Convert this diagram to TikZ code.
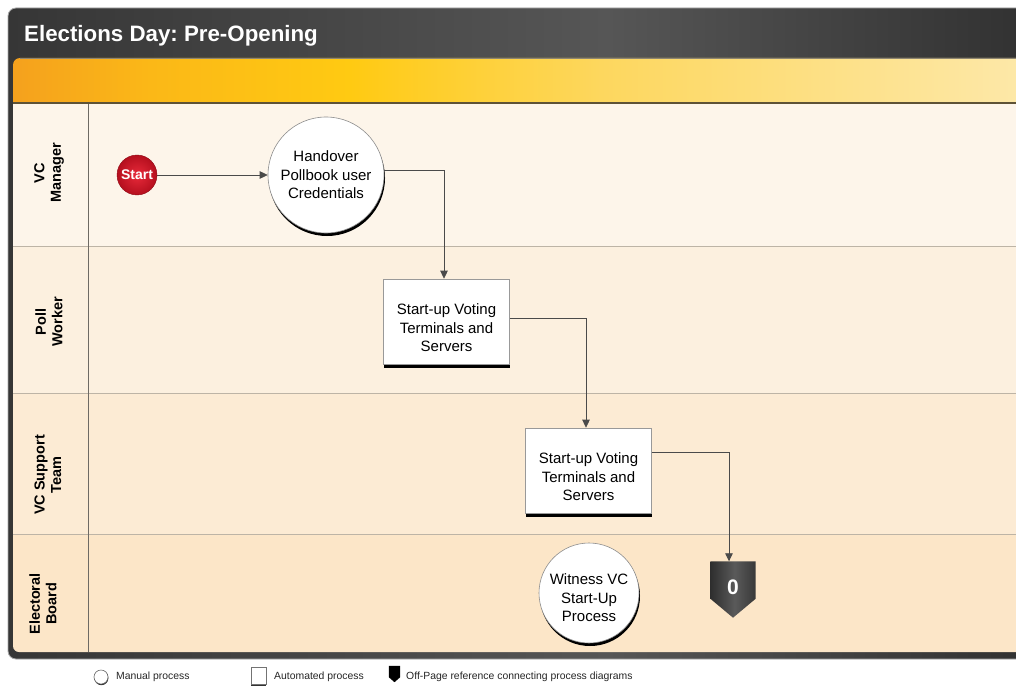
\documentclass[tikz,border=0pt]{standalone}
\usepackage{fontspec}
\setmainfont{Liberation Sans}
\usetikzlibrary{arrows.meta,calc}
\frenchspacing

% palette
\definecolor{frameA}{HTML}{363636}
\definecolor{frameM}{HTML}{464646}
\definecolor{frameB}{HTML}{565656}
\definecolor{frameC}{HTML}{323232}
\definecolor{frameEdge}{HTML}{A8A8A8}
\definecolor{bandA}{HTML}{F5A11D}
\definecolor{bandB}{HTML}{FBB817}
\definecolor{bandC}{HTML}{FFCA12}
\definecolor{bandD}{HTML}{FDD75E}
\definecolor{bandE}{HTML}{FDE8A8}
\definecolor{bandEdge}{HTML}{5E5236}
\definecolor{laneA}{HTML}{FDF5EA}
\definecolor{laneB}{HTML}{FCF0DF}
\definecolor{laneC}{HTML}{FCEBD4}
\definecolor{laneD}{HTML}{FCE6C8}
\definecolor{laneRule}{HTML}{BDB4A6}
\definecolor{colRule}{HTML}{6E6A64}
\definecolor{flowLine}{HTML}{4A4A4A}
\definecolor{redIn}{HTML}{E82A3A}
\definecolor{redOut}{HTML}{B50F1E}
\definecolor{offA}{HTML}{2E2E2E}
\definecolor{offB}{HTML}{5A5A5A}
\definecolor{offC}{HTML}{383838}

% horizontal colour ramps (25bp..75bp span the shaded path)
\pgfdeclarehorizontalshading{framebar}{100bp}{color(0bp)=(frameA); color(25bp)=(frameA); color(40bp)=(frameM); color(54bp)=(frameB); color(74bp)=(frameC); color(100bp)=(frameC)}
\pgfdeclarehorizontalshading{bandbar}{100bp}{color(0bp)=(bandA); color(25bp)=(bandA); color(31.7bp)=(bandB); color(41.4bp)=(bandC); color(53.6bp)=(bandD); color(74bp)=(bandE); color(100bp)=(bandE)}
\pgfdeclarehorizontalshading{offbar}{100bp}{color(0bp)=(offA); color(25bp)=(offA); color(52bp)=(offB); color(75bp)=(offC); color(100bp)=(offC)}

\begin{document}
\begin{tikzpicture}[x=1pt,y=-1pt,
  lanelabel/.style={rotate=90, align=center, inner sep=0pt,
    font=\bfseries\fontsize{14.5}{16.5}\selectfont},
  manual/.style={circle, draw=black!45, line width=0.6pt, fill=white,
    align=center, inner sep=0pt, font=\fontsize{15}{18.5}\selectfont,
    preaction={fill=black, transform canvas={xshift=1pt,yshift=-3pt}}},
  autobox/.style={rectangle, draw=black!40, line width=0.6pt, fill=white,
    align=center, inner sep=0pt, minimum width=126pt, minimum height=85pt,
    font=\fontsize{15}{18.5}\selectfont,
    preaction={fill=black, transform canvas={xshift=0.8pt,yshift=-4pt}}},
  startball/.style={circle, minimum size=40pt, inner sep=0pt,
    shading=radial, inner color=redIn, outer color=redOut,
    draw=redOut!80!black, line width=0.4pt, text=white,
    font=\bfseries\fontsize{14}{14}\selectfont},
  offframe/.style={rectangle, minimum width=45pt, minimum height=56pt, inner sep=0pt},
  offnum/.style={text=white, inner sep=0pt, text height=15pt, text depth=6pt,
    font=\bfseries\fontsize{21}{21}\selectfont},
  flow/.style={draw=flowLine, line width=0.8pt, -{Triangle[length=8pt,width=7.5pt]}},
  lanerule/.style={draw=laneRule, line width=0.8pt},
  legtext/.style={anchor=west, inner sep=0pt, font=\fontsize{10.4}{10.4}\selectfont, text=black!85},
  legcircle/.style={circle, minimum size=14pt, inner sep=0pt, draw=black!60,
    line width=0.6pt, fill=white,
    preaction={fill=black!80, transform canvas={xshift=0.4pt,yshift=-1.2pt}}},
  legbox/.style={rectangle, minimum width=15pt, minimum height=17pt, inner sep=0pt,
    draw=black!55, line width=0.6pt, fill=white,
    preaction={fill=black!80, transform canvas={yshift=-1.6pt}}},
  legoff/.style={rectangle, minimum width=11pt, minimum height=16pt, inner sep=0pt}
]
\useasboundingbox (0,0) rectangle (1016,687);
\fill[white] (0,0) rectangle (1016,687);
\clip (0,0) rectangle (1016,687);

% dark outer frame with title strip
\shade[shading=framebar, rounded corners=8pt, draw=frameEdge, line width=0.8pt]
  (8,8) rectangle (1040,659);

% orange-to-yellow header band
\shade[shading=bandbar, rounded corners=7pt] (13,58) rectangle (1040,112);
\draw[bandEdge!70, line width=0.6pt] (20,58.3) -- (1040,58.3);

% swim lanes
\fill[laneD, rounded corners=6pt] (13,520) rectangle (1040,652);
\fill[laneC] (13,393) rectangle (1040,534);
\fill[laneB] (13,246) rectangle (1040,393);
\fill[laneA] (13,103) rectangle (1040,246);
\draw[bandEdge, line width=1.4pt] (13,103) -- (1040,103);
\draw[lanerule] (13,246) -- (1040,246);
\draw[lanerule] (13,393) -- (1040,393);
\draw[lanerule] (13,534) -- (1040,534);
\draw[colRule, line width=0.8pt] (88,104) -- (88,652);

% title
\node[anchor=base west, inner sep=0pt, text=white,
  font=\bfseries\fontsize{22.3}{22.3}\selectfont] (title) at (24,42) {Elections Day: Pre-Opening};

% lane headings
\node[lanelabel] (laneVCM) at (49,173) {VC\\Manager};
\node[lanelabel] (lanePW) at (49,322) {Poll\\Worker};
\node[lanelabel] (laneVCS) at (48,475) {VC Support\\Team};
\node[lanelabel] (laneEB) at (43,604) {Electoral\\Board};

% process steps
\node[startball] (start) at (137,175) {Start};
\node[manual, minimum size=116pt] (handover) at (326,175) {Handover\\Pollbook user\\Credentials};
\node[autobox] (su1) at (446.5,321.5) {\\[5.5pt]Start-up Voting\\Terminals and\\Servers};
\node[autobox] (su2) at (588.5,470.5) {\\[5.5pt]Start-up Voting\\Terminals and\\Servers};
\node[manual, minimum size=100pt] (witness) at (589,593) {\\[2.5pt]Witness VC\\Start-Up\\Process};

% off-page reference
\node[offframe] (off) at (733,589.5) {};
\shade[shading=offbar] (off.north west) -- (off.north east)
  -- ($(off.south east)+(0,-19)$) -- (off.south) -- ($(off.south west)+(0,-19)$) -- cycle;
\node[offnum] (offnum) at (off.center) {0};

% connectors
\draw[flow] (start) -- (handover);
\draw[flow] ($(handover.east)+(0,-5)$) -| ($(su1.north)+(-2.5,0)$);
\draw[flow] ($(su1.east)+(0,-3.5)$) -| ($(su2.north)+(-2.5,0)$);
\draw[flow] ($(su2.east)+(0,-18.5)$) -| ($(off.north)+(-4,0)$);

% legend
\node[legcircle] (legManual) at (101,677) {};
\node[legtext] (legManualTxt) at (116,677) {Manual process};
\node[legbox] (legAuto) at (258.5,675.5) {};
\node[legtext] (legAutoTxt) at (274,677) {Automated process};
\node[legoff] (legOff) at (394.5,674) {};
\fill[black] (legOff.north west) -- (legOff.north east)
  -- ($(legOff.south east)+(0,-5)$) -- (legOff.south) -- ($(legOff.south west)+(0,-5)$) -- cycle;
\node[legtext] (legOffTxt) at (406,677) {Off-Page reference connecting process diagrams};
\end{tikzpicture}
\end{document}
